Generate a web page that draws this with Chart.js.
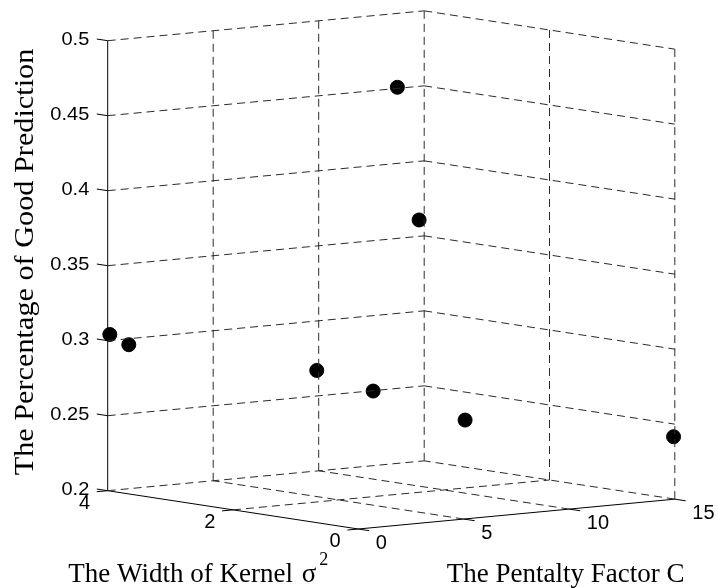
<!DOCTYPE html>
<html><head><meta charset="utf-8">
<script src="https://cdn.jsdelivr.net/npm/chart.js@4"></script>
<style>html,body{margin:0;padding:0;background:#fff}#wrap{width:718px;height:588px;position:relative}</style>
</head><body>
<div id="wrap"><canvas id="c" width="718" height="588"></canvas></div>
<script>
// ---- data ----
const penaltyC      = [0.1, 1, 1, 1, 2, 3, 5.12, 15];
const kernelWidth   = [4, 4, 1, 0.1, 0.05, 0.04, 0.02, 0.02];
const goodPrediction= [0.304, 0.296, 0.298, 0.29, 0.4915, 0.4018, 0.2657, 0.2415];
const cTicks     = [0, 5, 10, 15];
const sigmaTicks = [0, 2, 4];
const zTicks     = [0.2, 0.25, 0.3, 0.35, 0.4, 0.45, 0.5];
const cTickLabels     = ['0', '5', '10', '15'];
const sigmaTickLabels = ['0', '2', '4'];
const zTickLabels     = ['0.2', '0.25', '0.3', '0.35', '0.4', '0.45', '0.5'];
const cRange = [0, 15], sigmaRange = [0, 4], zRange = [0.2, 0.5];
const cTitle = 'The Pentalty Factor C';
const sigmaTitle = 'The Width of Kernel';
const zTitle = 'The Percentage of Good Prediction';

// ---- view (orthographic projection of the 3-D box onto the canvas scales) ----
const view = { ox: 358.3, oy: 529, cx: 21.1, cy: -1.99, sx: -62.65, sy: -9.575, zs: 1500 };
function proj(c, s, z) {
  return { x: view.ox + view.cx * c + view.sx * s,
           y: view.oy + view.cy * c + view.sy * s - view.zs * (z - zRange[0]) };
}
const tickS = 0.1736, tickC = 0.519; // tick lengths in data units

const [c0, c1] = cRange, [s0, s1] = sigmaRange, [z0, z1] = zRange;
const grid = [];
zTicks.filter(z => z > z0).forEach(z => { grid.push([[c0, s1, z], [c1, s1, z]]); grid.push([[c1, s1, z], [c1, s0, z]]); });
cTicks.filter(c => c > c0).forEach(c => grid.push([[c, s1, z0], [c, s1, z1]]));
sigmaTicks.filter(s => s < s1).forEach(s => grid.push([[c1, s, z0], [c1, s, z1]]));
cTicks.filter(c => c > c0).forEach(c => grid.push([[c, s0, z0], [c, s1, z0]]));
sigmaTicks.filter(s => s > s0).forEach(s => grid.push([[c0, s, z0], [c1, s, z0]]));

const axes = [
  [[c0, s1, z0], [c0, s1, z1]],
  [[c0, s1, z0], [c0, s0, z0]],
  [[c0, s0, z0], [c1, s0, z0]]
];
zTicks.forEach(z => axes.push([[c0, s1, z], [c0, s1 + tickS, z]]));
sigmaTicks.forEach(s => axes.push([[c0, s, z0], [c0 - tickC, s, z0]]));
cTicks.forEach(c => axes.push([[c, s0, z0], [c, s0 - tickS, z0]]));

const toPts = seg => seg.map(p => proj(p[0], p[1], p[2]));
const datasets = [];
grid.forEach(seg => datasets.push({ data: toPts(seg), showLine: true, borderColor: '#2a2a2a', borderWidth: 1,
  borderDash: [8, 5], pointRadius: 0, fill: false }));
axes.forEach(seg => datasets.push({ data: toPts(seg), showLine: true, borderColor: '#000', borderWidth: 1,
  pointRadius: 0, fill: false }));
datasets.push({ data: penaltyC.map((c, i) => proj(c, kernelWidth[i], goodPrediction[i])), showLine: false,
  pointRadius: 7, pointBackgroundColor: '#000', pointBorderColor: '#000', pointBorderWidth: 1 });

function txt(ctx, s, x, y, font, align, base, sx, sy, rot) {
  ctx.save(); ctx.translate(x, y); if (rot) ctx.rotate(rot); ctx.scale(sx || 1, sy || 1);
  ctx.font = font; ctx.textAlign = align; ctx.textBaseline = base; ctx.fillStyle = '#000';
  ctx.fillText(s, 0, 0); ctx.restore();
}
const labelsPlugin = {
  id: 'labels3d',
  beforeDraw(chart) { const c = chart.ctx; c.save(); c.fillStyle = '#fff'; c.fillRect(0, 0, chart.width, chart.height); c.restore(); },
  afterDraw(chart) {
    const ctx = chart.ctx, X = chart.scales.x, Y = chart.scales.y;
    const P = (c, s, z) => { const p = proj(c, s, z); return { x: X.getPixelForValue(p.x), y: Y.getPixelForValue(p.y) }; };
    const tf = '20px "Liberation Sans", Arial, sans-serif';
    zTicks.forEach((z, i) => { const p = P(c0, s1, z); txt(ctx, zTickLabels[i], p.x - 18.4, p.y - 1, tf, 'right', 'middle', 1, 0.9); });
    sigmaTicks.forEach((s, i) => { const p = P(c0, s, z0); txt(ctx, sigmaTickLabels[i], p.x - 17.7, p.y + 12.7, tf, 'right', 'middle'); });
    cTicks.forEach((c, i) => { const p = P(c, s0, z0); txt(ctx, cTickLabels[i], p.x + 17.5, p.y + 14.5, tf, 'left', 'middle'); });
    const ttf = '27px "Liberation Serif", "Times New Roman", serif';
    txt(ctx, cTitle, 446.7, 581.5, ttf, 'left', 'alphabetic');
    ctx.save(); ctx.font = ttf; const w = ctx.measureText(sigmaTitle).width; const ws = ctx.measureText('σ').width; ctx.restore();
    txt(ctx, sigmaTitle, 68.3, 581.5, ttf, 'left', 'alphabetic');
    const sx0 = Math.max(68.3 + w + 8, 301.7);
    txt(ctx, 'σ', sx0, 581.5, ttf, 'left', 'alphabetic');
    txt(ctx, '2', Math.max(sx0 + ws + 2, 319.3), 565, '18px "Liberation Serif", "Times New Roman", serif', 'left', 'alphabetic');
    txt(ctx, zTitle, 32.7, 262, ttf, 'center', 'alphabetic', 1.12, 1, -Math.PI / 2);
  }
};

new Chart(document.getElementById('c'), {
  type: 'scatter',
  data: { datasets },
  options: {
    responsive: false, animation: false, devicePixelRatio: 1, events: [],
    layout: { padding: 0, autoPadding: false },
    plugins: { legend: { display: false }, tooltip: { enabled: false } },
    scales: {
      x: { type: 'linear', min: 0, max: 718, display: false },
      y: { type: 'linear', min: 0, max: 588, reverse: true, display: false }
    }
  },
  plugins: [labelsPlugin]
});
</script>
</body></html>
